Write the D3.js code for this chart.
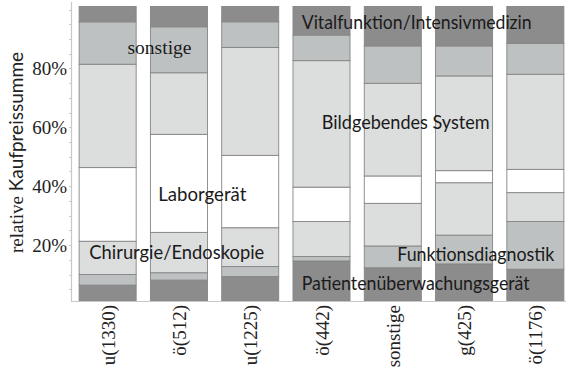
<!DOCTYPE html>
<html>
<head>
<meta charset="utf-8">
<script src="https://cdn.jsdelivr.net/npm/d3@7"></script>
<style>
  body { margin: 0; background: #fff; }
  svg { display: block; }
</style>
</head>
<body>
<svg id="chart"></svg>
<script>
var width = 566;
var height = 372;

// categories along x
var categories = ["u(1330)", "ö(512)", "u(1225)", "ö(442)", "sonstige", "g(425)", "ö(1176)"];

// shares per category, bottom to top
var patienten   = [0.054, 0.071, 0.083, 0.136, 0.113, 0.126, 0.108];
var funktion    = [0.036, 0.025, 0.034, 0.015, 0.074, 0.098, 0.162];
var chirurgie   = [0.113, 0.137, 0.132, 0.119, 0.145, 0.178, 0.098];
var labor       = [0.250, 0.333, 0.246, 0.117, 0.093, 0.041, 0.079];
var bildgebend  = [0.351, 0.209, 0.367, 0.430, 0.315, 0.322, 0.323];
var sonstige    = [0.144, 0.156, 0.087, 0.087, 0.127, 0.102, 0.105];
var vital       = [0.052, 0.069, 0.052, 0.097, 0.134, 0.134, 0.125];

var seriesNames = ["Patientenüberwachungsgerät", "Funktionsdiagnostik", "Chirurgie/Endoskopie",
                   "Laborgerät", "Bildgebendes System", "sonstige", "Vitalfunktion/Intensivmedizin"];
var seriesValues = [patienten, funktion, chirurgie, labor, bildgebend, sonstige, vital];
var seriesColors = ["#8c8c8c", "#bdc1c1", "#dcdddd", "#ffffff", "#dcdddd", "#bdc1c1", "#8c8c8c"];

var yTicks = [0.2, 0.4, 0.6, 0.8];

var rows = categories.map(function (c, i) {
  var r = { cat: c };
  seriesNames.forEach(function (s, j) { r[s] = seriesValues[j][i]; });
  return r;
});
var stacked = d3.stack().keys(seriesNames).offset(d3.stackOffsetExpand)(rows);

var svg = d3.select("#chart")
            .attr("width", width)
            .attr("height", height);

var x = d3.scaleBand()
          .domain(categories)
          .range([72, 571])
          .paddingInner(0.2)
          .paddingOuter(0.1);

// bars
var y = d3.scaleLinear().domain([0, 1]).range([301, 6.5]);
// axis ticks sit a little lower than the bars in the original
var yAxisScale = d3.scaleLinear().domain([0, 1]).range([304, 9.5]);

svg.append("g")
   .selectAll("g")
   .data(stacked)
   .enter()
   .append("g")
     .attr("fill", function (d, i) { return seriesColors[i]; })
   .selectAll("rect")
   .data(function (d) { return d; })
   .enter()
   .append("rect")
     .attr("x", function (d) { return x(d.data.cat); })
     .attr("width", x.bandwidth())
     .attr("y", function (d) { return y(d[1]); })
     .attr("height", function (d) { return y(d[0]) - y(d[1]); })
     .attr("stroke", "#858585")
     .attr("stroke-width", 0.9);

// axes lines
svg.append("line")
   .attr("x1", 71.5).attr("x2", 71.5)
   .attr("y1", 2).attr("y2", 301.5)
   .attr("stroke", "#c8c8c8").attr("stroke-width", 1.2);
svg.append("line")
   .attr("x1", 71).attr("x2", 566)
   .attr("y1", 301.5).attr("y2", 301.5)
   .attr("stroke", "#c8c8c8").attr("stroke-width", 1.2);

// minor ticks every 5%
svg.append("g")
   .selectAll("line")
   .data(d3.range(1, 21).map(function (k) { return k * 0.05; }))
   .enter()
   .append("line")
     .attr("x1", 69).attr("x2", 71.5)
     .attr("y1", function (d) { return Math.round(yAxisScale(d)) + 0.5; })
     .attr("y2", function (d) { return Math.round(yAxisScale(d)) + 0.5; })
     .attr("stroke", "#c8c8c8");

svg.append("g")
   .selectAll("text")
   .data(yTicks)
   .enter()
   .append("text")
     .attr("x", 67)
     .attr("y", function (d) { return yAxisScale(d); })
     .attr("dy", "0.34em")
     .attr("text-anchor", "end")
     .attr("font-family", "Liberation Serif, serif")
     .attr("font-size", 19)
     .attr("fill", "#222")
     .text(d3.format(".0%"));

// x labels, rotated
svg.append("g")
   .selectAll("text")
   .data(categories)
   .enter()
   .append("text")
     .attr("transform", function (d) {
       return "translate(" + (x(d) + x.bandwidth() / 2 + 7) + ",305) rotate(-90)";
     })
     .attr("text-anchor", "end")
     .attr("font-family", "Liberation Serif, serif")
     .attr("font-size", 19)
     .attr("fill", "#222")
     .text(function (d) { return d; });

// y title
var title = svg.append("text")
   .attr("transform", "translate(23,253) rotate(-90)")
   .attr("font-size", 19)
   .attr("fill", "#222");
title.append("tspan").attr("font-family", "Liberation Serif, serif").text("relative ");
title.append("tspan").attr("font-family", "Lato, sans-serif").text("Kaufpreissumme");

// labels in the plot
var labels = [
  { t: "sonstige", x: 127.5, y: 53.5, w: 64, serif: true },
  { t: "Laborgerät", x: 158.3, y: 200.5, w: 88 },
  { t: "Chirurgie/Endoskopie", x: 89.3, y: 259.3, w: 175 },
  { t: "Vitalfunktion/Intensivmedizin", x: 301.7, y: 29.3, w: 230 },
  { t: "Bildgebendes System", x: 321.7, y: 129.3, w: 168 },
  { t: "Funktionsdiagnostik", x: 397.3, y: 260.5, w: 157 },
  { t: "Patientenüberwachungsgerät", x: 301.7, y: 290, w: 228 }
];

svg.append("g")
   .selectAll("text")
   .data(labels)
   .enter()
   .append("text")
     .attr("x", function (d) { return d.x; })
     .attr("y", function (d) { return d.y; })
     .attr("font-family", function (d) { return d.serif ? "Liberation Serif, serif" : "Lato, sans-serif"; })
     .attr("font-size", function (d) { return d.serif ? 19 : 19; })
     .attr("textLength", function (d) { return d.w; })
     .attr("lengthAdjust", "spacingAndGlyphs")
     .attr("fill", "#1a1a1a")
     .text(function (d) { return d.t; });
</script>
</body>
</html>
